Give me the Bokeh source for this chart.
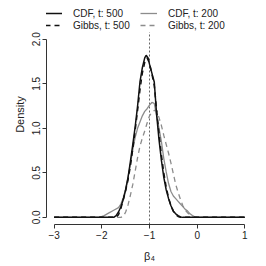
from bokeh.plotting import figure
from bokeh.models import Legend, LegendItem, FixedTicker, Range1d
from bokeh.embed import file_html
from bokeh.resources import INLINE

# ---------------- data ----------------
x_ticks = [-3, -2, -1, 0, 1]
x_tick_labels = ["\u22123", "\u22122", "\u22121", "0", "1"]
y_ticks = [0.0, 0.5, 1.0, 1.5, 2.0]
y_tick_labels = ["0.0", "0.5", "1.0", "1.5", "2.0"]
true_beta4 = -1.0
panel_y_lo, panel_y_hi = -0.08, 2.08      # R plot-region limits (dashed line extent)

cdf500_x = [-3, -1.75, -1.7, -1.65, -1.6, -1.55, -1.5, -1.45, -1.4, -1.35, -1.3, -1.25,
            -1.2, -1.15, -1.1, -1.07, -1.03, -1.0, -0.95, -0.9, -0.85, -0.8, -0.75, -0.7,
            -0.65, -0.6, -0.55, -0.5, -0.45, -0.4, -0.35, -0.3, 1]
cdf500_y = [0, 0, 0.02, 0.06, 0.12, 0.20, 0.31, 0.45, 0.63, 0.82, 1.02, 1.25,
            1.52, 1.68, 1.79, 1.82, 1.79, 1.72, 1.62, 1.52, 1.15, 0.87, 0.64, 0.45,
            0.31, 0.21, 0.13, 0.07, 0.04, 0.02, 0.005, 0, 0]

gibbs500_x = [-3, -1.7, -1.65, -1.6, -1.55, -1.5, -1.45, -1.4, -1.35, -1.3, -1.25, -1.2,
              -1.15, -1.1, -1.05, -1.0, -0.95, -0.9, -0.85, -0.8, -0.75, -0.7, -0.65,
              -0.6, -0.55, -0.5, -0.45, -0.4, -0.35, 1]
gibbs500_y = [0, 0, 0.03, 0.10, 0.20, 0.30, 0.42, 0.58, 0.77, 0.98, 1.20, 1.43,
              1.62, 1.74, 1.79, 1.73, 1.61, 1.48, 1.20, 0.94, 0.70, 0.50, 0.34,
              0.22, 0.13, 0.07, 0.03, 0.01, 0, 0]

cdf200_x = [-3, -2.05, -1.95, -1.85, -1.75, -1.65, -1.6, -1.55, -1.5, -1.45, -1.4, -1.35,
            -1.3, -1.25, -1.2, -1.15, -1.1, -1.05, -1.0, -0.95, -0.9, -0.85, -0.8, -0.75,
            -0.7, -0.65, -0.6, -0.55, -0.5, -0.45, -0.4, -0.35, -0.3, -0.25, -0.2, -0.15,
            -0.1, -0.05, 0, 1]
cdf200_y = [0, 0, 0.02, 0.05, 0.08, 0.11, 0.15, 0.22, 0.32, 0.45, 0.60, 0.76,
            0.90, 1.00, 1.07, 1.14, 1.19, 1.22, 1.26, 1.29, 1.28, 1.14, 1.00, 0.85,
            0.66, 0.51, 0.38, 0.29, 0.24, 0.21, 0.18, 0.15, 0.12, 0.09, 0.07, 0.04,
            0.02, 0.005, 0, 0]

gibbs200_x = [-3, -1.6, -1.55, -1.5, -1.45, -1.4, -1.35, -1.3, -1.25, -1.2, -1.15, -1.1,
              -1.05, -1.0, -0.95, -0.9, -0.85, -0.8, -0.75, -0.7, -0.65, -0.6, -0.55,
              -0.5, -0.45, -0.4, -0.35, -0.3, -0.25, -0.2, -0.15, -0.1, -0.05, 1]
gibbs200_y = [0, 0, 0.01, 0.06, 0.14, 0.25, 0.37, 0.52, 0.67, 0.80, 0.89, 0.97,
              1.06, 1.14, 1.18, 1.20, 1.20, 1.12, 1.03, 0.92, 0.82, 0.72, 0.61,
              0.49, 0.37, 0.28, 0.20, 0.13, 0.08, 0.05, 0.03, 0.01, 0, 0]

FONT = "Liberation Sans"
BLACK = "#111111"
GRAY = "#8c8c8c"

# frame extended upward so the legend (above the curves) sits inside it
p = figure(width=266, height=266, output_backend="svg", toolbar_location=None,
           x_range=Range1d(-3.16, 1.16), y_range=Range1d(-0.08, 2.39),
           min_border_left=46, min_border_right=14, min_border_top=4, min_border_bottom=42)
p.outline_line_color = None
p.grid.visible = False
p.background_fill_color = "white"
p.border_fill_color = "white"

p.segment(x0=[true_beta4], y0=[panel_y_lo], x1=[true_beta4], y1=[panel_y_hi],
          line_color="#666666", line_dash="2 2", line_width=1)

r_c200 = p.line(cdf200_x, cdf200_y, line_color=GRAY, line_width=1.3)
r_g200 = p.line(gibbs200_x, gibbs200_y, line_color=GRAY, line_width=1.3, line_dash="5 4")
r_c500 = p.line(cdf500_x, cdf500_y, line_color=BLACK, line_width=1.5)
r_g500 = p.line(gibbs500_x, gibbs500_y, line_color=BLACK, line_width=1.5, line_dash="5 4")

# axes
for ax in (p.xaxis[0], p.yaxis[0]):
    ax.axis_line_color = "#333333"
    ax.major_tick_line_color = "#333333"
    ax.major_tick_out = 4
    ax.major_tick_in = 0
    ax.minor_tick_line_color = None
    ax.major_label_text_font = FONT
    ax.major_label_text_font_size = "10px"
    ax.major_label_text_color = "#222222"
    ax.major_label_standoff = 2
    ax.axis_label_text_font = FONT
    ax.axis_label_text_font_size = "11px"
    ax.axis_label_text_font_style = "normal"
    ax.axis_label_text_color = "#222222"

p.xaxis.ticker = FixedTicker(ticks=x_ticks)
p.xaxis.major_label_overrides = dict(zip(x_ticks, x_tick_labels))
p.xaxis.bounds = (x_ticks[0], x_ticks[-1])
p.xaxis.axis_label = "\u03b2\u2084"
p.xaxis.axis_label_standoff = 8

p.yaxis.ticker = FixedTicker(ticks=y_ticks)
p.yaxis.major_label_overrides = dict(zip(y_ticks, y_tick_labels))
p.yaxis.bounds = (y_ticks[0], y_ticks[-1])
p.yaxis.major_label_orientation = "vertical"
p.yaxis.axis_label = "Density"
p.yaxis.axis_label_standoff = 4

legend = Legend(items=[
    LegendItem(label="CDF, t: 500", renderers=[r_c500]),
    LegendItem(label="CDF, t: 200", renderers=[r_c200]),
    LegendItem(label="Gibbs, t: 500", renderers=[r_g500]),
    LegendItem(label="Gibbs, t: 200", renderers=[r_g200]),
], orientation="horizontal", ncols=2, location=(-1, 193),
    border_line_color=None, background_fill_alpha=0,
    padding=0, margin=0, spacing=0,
    glyph_width=17, glyph_height=12, label_height=12, label_width=67, label_standoff=11,
    label_text_font=FONT, label_text_font_size="10px", label_text_color="#222222")
p.add_layout(legend, "center")

open("out.html", "w").write(file_html(p, INLINE))
